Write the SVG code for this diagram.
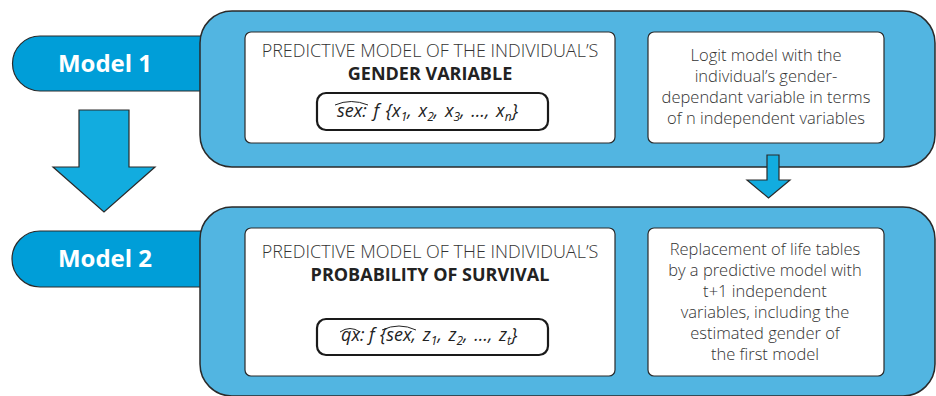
<svg xmlns="http://www.w3.org/2000/svg" width="936" height="396" viewBox="0 0 936 396">
<style>
.outer{fill:#52b5e1;stroke:#2a2a2a;stroke-width:1.5}
.pill{fill:#009ed8;stroke:#2a2a2a;stroke-width:1.2}
.card{fill:#fff;stroke:#2a2a2a;stroke-width:1.2}
.fbox{fill:#fff;stroke:#1a1a1a;stroke-width:2.2}
.arrow{fill:#12acdf;stroke:#2a2a2a;stroke-width:1.2}
.label{font-family:"Open Sans",sans-serif;font-weight:700;font-size:24px;fill:#fff;text-anchor:middle}
.head{font-family:"Open Sans",sans-serif;font-weight:300;font-size:18px;fill:#333;text-anchor:middle}
.light{font-family:"Open Sans",sans-serif;font-weight:300;font-size:16.5px;fill:#333;text-anchor:middle}
.bold{font-family:"Open Sans",sans-serif;font-weight:700;font-size:18px;fill:#222;text-anchor:middle}
.formula{font-family:"Open Sans",sans-serif;font-style:italic;font-size:18px;fill:#222;word-spacing:2px}
.sub{font-size:12px}
.hat{fill:none;stroke:#222;stroke-width:1}
</style>
<g id="model1">
  <path class="pill" d="M40,36 H205 V91 H40 A27.5,27.5 0 0 1 40,36 Z"/>
  <rect class="outer" x="200" y="11" width="735" height="156" rx="32"/>
  <text class="label" x="105" y="72">Model 1</text>
  <g id="m1-card">
    <rect class="card" x="245" y="32" width="370" height="111" rx="6"/>
    <text class="head" x="430" y="57">PREDICTIVE MODEL OF THE INDIVIDUAL’S</text>
    <text class="bold" x="430" y="80">GENDER VARIABLE</text>
    <rect class="fbox" x="317" y="93" width="231" height="37" rx="9"/>
    <text class="formula" x="337" y="117">sex: f {x<tspan class="sub" dy="4">1</tspan><tspan dy="-4">, x</tspan><tspan class="sub" dy="4">2</tspan><tspan dy="-4">, x</tspan><tspan class="sub" dy="4">3</tspan><tspan dy="-4">, …, x</tspan><tspan class="sub" dy="4">n</tspan><tspan dy="-4">}</tspan></text>
    <path class="hat" d="M335,105 Q351,98 368,105"/>
  </g>
  <g id="m1-note">
    <rect class="card" x="648" y="32" width="236" height="111" rx="6"/>
    <text class="light" x="766" y="61">Logit model with the</text>
    <text class="light" x="766" y="82">individual’s gender-</text>
    <text class="light" x="766" y="103">dependant variable in terms</text>
    <text class="light" x="766" y="124">of n independent variables</text>
  </g>
</g>
<g id="model2">
  <path class="pill" d="M40,231 H205 V287 H40 A28,28 0 0 1 40,231 Z"/>
  <path class="outer" d="M232,207 H903 A32,32 0 0 1 935,239 V364 A32,32 0 0 1 903,396 H232 A32,32 0 0 1 200,364 V239 A32,32 0 0 1 232,207 Z"/>
  <text class="label" x="105" y="267">Model 2</text>
  <g id="m2-card">
    <rect class="card" x="245" y="228" width="370" height="148" rx="6"/>
    <text class="head" x="430" y="258">PREDICTIVE MODEL OF THE INDIVIDUAL’S</text>
    <text class="bold" x="430" y="281">PROBABILITY OF SURVIVAL</text>
    <rect class="fbox" x="317" y="319" width="231" height="36" rx="9"/>
    <text class="formula" y="341"><tspan x="341">qx:</tspan><tspan x="369">f</tspan><tspan x="380">{sex, z</tspan><tspan class="sub" dy="4">1</tspan><tspan dy="-4">, z</tspan><tspan class="sub" dy="4">2</tspan><tspan dy="-4">, …, z</tspan><tspan class="sub" dy="4">t</tspan><tspan dy="-4">}</tspan></text>
    <path class="hat" d="M340,332 Q350,325 360,332"/>
    <path class="hat" d="M382,330 Q399,322 416,330"/>
  </g>
  <g id="m2-note">
    <rect class="card" x="648" y="228" width="236" height="148" rx="6"/>
    <text class="light" x="765" y="255">Replacement of life tables</text>
    <text class="light" x="765" y="276">by a predictive model with</text>
    <text class="light" x="765" y="297">t+1 independent</text>
    <text class="light" x="765" y="318">variables, including the</text>
    <text class="light" x="765" y="339">estimated gender of</text>
    <text class="light" x="765" y="360">the first model</text>
  </g>
</g>
<g id="connectors">
  <path class="arrow" d="M79,110 H129 V167 H155 L104,212 L53,167 H79 Z"/>
  <path class="arrow" d="M767,155 H779 V180 H790 L768.5,198 L747,180 H767 Z"/>
</g>
</svg>
